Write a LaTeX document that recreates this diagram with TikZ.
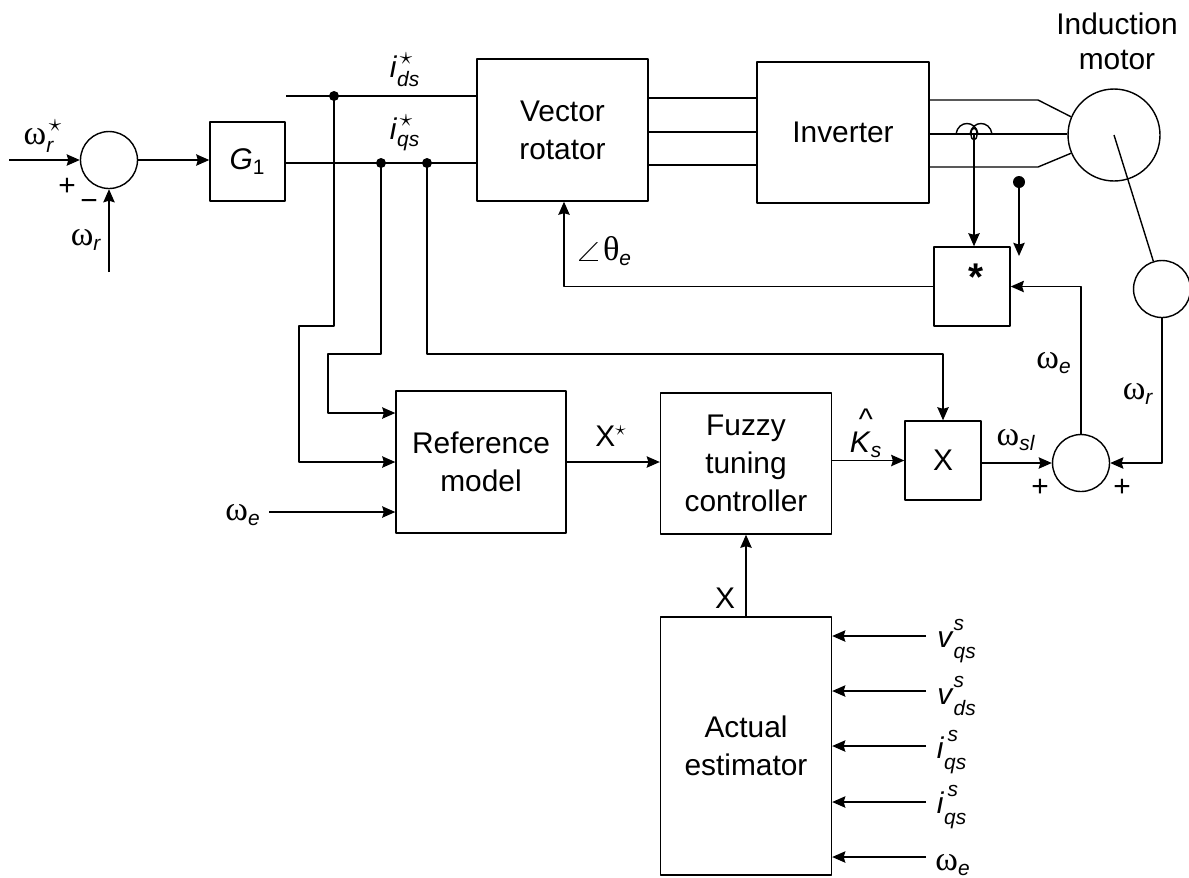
\documentclass[tikz,border=0pt]{standalone}
\usepackage{amsmath}
\usepackage{fontspec}
\setmainfont{Liberation Sans}
\newfontfamily\grk[Scale=1.15]{Liberation Serif}
\usetikzlibrary{arrows.meta}
\newcommand{\wsub}[1]{{\grk ω}$_{\text{\itshape #1}}$}
\newcommand{\cursub}[3]{\textit{#1}$^{\text{\itshape\raisebox{3.4pt}{#2}}}_{\text{\itshape\raisebox{-2pt}{#3}}}$}
\newcommand{\sstar}{\text{\kern1.5pt\raisebox{1pt}{\scalebox{1.2}{$\star$}}}}
\tikzset{
	block/.style={draw,align=center,inner sep=0pt},
	sumnode/.style={draw,circle,inner sep=0pt,minimum size=1.14cm},
}
\begin{document}
\begin{tikzpicture}[x=0.02cm,y=-0.02cm,font=\fontsize{17}{21.5}\selectfont,line width=0.8pt,line join=round,>={Stealth[length=7.5pt,width=6.5pt,inset=1pt]}]
	\useasboundingbox (0,0) rectangle (1189,877);
	
	\path (109,160) node[sumnode] (sumA) {};
	\path (1081,463) node[sumnode] (sumB) {};
	\path (1114,135) node[draw,circle,inner sep=0pt,minimum size=1.84cm] (motor) {};
	\path (1162,289) node[draw,circle,inner sep=0pt,minimum size=1.14cm] (tacho) {};
	
	\path (247.5,161.5) node[block,minimum width=1.5cm,minimum height=1.58cm] (gain) {\textit{G}$_{\text{1}}$};
	\path (562.5,130) node[block,minimum width=3.42cm,minimum height=2.84cm] (rotator) {Vector\\rotator};
	\path (843,132.5) node[block,minimum width=3.44cm,minimum height=2.82cm] (inverter) {Inverter};
	\path (972,286.5) node[block,minimum width=1.52cm,minimum height=1.58cm] (mult) {};
	\path (481,462) node[block,minimum width=3.4cm,minimum height=2.84cm] (refmodel) {Reference\\model};
	\path (746,463.5) node[block,minimum width=3.42cm,minimum height=2.82cm] (fuzzy) {Fuzzy\\tuning\\controller};
	\path (943,460.5) node[block,minimum width=1.52cm,minimum height=1.58cm] (times) {X};
	\path (746,746) node[block,minimum width=3.42cm,minimum height=5.16cm] (actual) {Actual\\estimator};
	
	\coordinate (inA) at (9,160);
	\coordinate (inB) at (109,272);
	\coordinate (ids) at (286,96);
	\coordinate (J1) at (334,96);
	\coordinate (J2) at (381,163);
	\coordinate (J3) at (427,163);
	\coordinate (B1) at (299,326);
	\coordinate (B2) at (328,354);
	\coordinate (inE) at (269,512);
	\coordinate (dotS) at (1019,182);
	\coordinate (coil) at (974,134);
	\coordinate (c1) at (929,100);
	\coordinate (c2) at (929,134);
	\coordinate (c3) at (929,167);
	\coordinate (k1) at (1038,100);
	\coordinate (k3) at (1038,167);
	\coordinate (ang) at (564,286.5);
	\coordinate (we) at (1081,286.5);
	
	\draw[->] (inA) -- (sumA);
	\draw[->] (inB) -- (sumA);
	\draw[->] (sumA) -- (sumA -| gain.west);
	
	\draw (gain.east |- J3) -- (rotator.west |- J3);
	\draw (ids) -- (rotator.west |- ids);
	\draw (rotator.east |- 0,98) -- (inverter.west |- 0,98);
	\draw (rotator.east |- 0,132) -- (inverter.west |- 0,132);
	\draw (rotator.east |- 0,165) -- (inverter.west |- 0,165);
	
	\draw (c1) -- (k1) -- (motor.157);
	\draw (c2) -- (c2 -| motor.west);
	\draw (c3) -- (k3) -- (motor.203);
	\draw (motor.center) -- (tacho);
	
	\draw[->] (J1) |- (B1) |- (refmodel.west |- 0,462);
	\draw[->] (J2) |- (B2) |- (refmodel.west |- 0,413);
	\draw[->] (J3) |- (times.north |- 0,354) -- (times.north);
	\draw[->] (inE) -- (refmodel.west |- inE);
	
	\draw[->] (refmodel.east) -- (refmodel.east -| fuzzy.west);
	\draw[->] (fuzzy.east |- times) -- (times.west);
	\draw[->] (times.east |- sumB) -- (sumB);
	\draw[->] (actual.north) -- (fuzzy.south);
	
	\draw[->] (sumB) -- (we) -- (mult.east);
	\draw[->] (tacho) |- (sumB);
	\draw[->] (mult.west) -- (ang) -- (rotator.south -| ang);
	
	\draw[->] (coil) -- (coil |- mult.north);
	\draw[->] (dotS) -- (1019,256);
	\draw (956,134) .. controls (958,120) and (976,120) .. (978,134);
	\draw (970,134) .. controls (972,120) and (990,120) .. (992,134);
	\draw (coil) ellipse (3 and 6);
	
	\foreach \p/\q in {636/vqs,691/vds,746/iqa,802/iqb,857/wea}
	{
		\coordinate (\q) at (926,\p);
		\draw[->] (\q) -- (actual.east |- \q);
	}
	
	\foreach \p in {J1,J2,J3}
	\fill (\p) circle (5);
	\fill (dotS) circle (6);
	
	\path (1117,24) node (lblind) {Induction};
	\path (1117,60) node (lblmot) {motor};
	\path (976,277) node (lblstar) {\fontsize{22}{22}\selectfont\textbf{*}};
	\path (43,136) node (lblwrs) {{\grk ω}$^{\sstar}_{\text{\itshape r}}$};
	\path (67,187) node (lblplA) {+};
	\path (89,205) node (lblmin) {−};
	\path (86,240) node (lblwr) {\wsub{r}};
	\path (405,70) node (lblids) {\textit{i}$^{\sstar}_{\text{\itshape ds}}$};
	\path (405,133) node (lbliqs) {\textit{i}$^{\sstar}_{\text{\itshape qs}}$};
	\path (603,251) node (lblang) {\resizebox{0.58cm}{0.36cm}{$\angle$}{\grk θ}$_{\text{\itshape e}}$};
	\path (1054,363) node (lblwe) {\wsub{e}};
	\path (1138,394) node (lblwrb) {\wsub{r}};
	\path (243,515) node (lblwea) {\wsub{e}};
	\path (611,436) node (lblxs) {X$^{\star}$};
	\path (866,433) node (lblks) {\makebox[0pt][l]{\hspace{0.3em}\raisebox{0.78em}{\^{}}}\textit{K}$_{\text{\itshape s}}$};
	\path (1016,440) node (lblwsl) {\wsub{sl}};
	\path (1040,488) node (lblplB) {+};
	\path (1122,488) node (lblplC) {+};
	\path (725,598) node (lblx) {X};
	\path (957,641) node (lblvq) {\cursub{v}{s}{qs}};
	\path (957,696) node (lblvd) {\cursub{v}{s}{ds}};
	\path (952,752) node (lbliq) {\cursub{i}{\kern2pt s}{qs}};
	\path (952,807) node (lblid) {\cursub{i}{\kern2pt s}{qs}};
	\path (953,865) node (lblwb) {\wsub{e}};
\end{tikzpicture}
\end{document}
